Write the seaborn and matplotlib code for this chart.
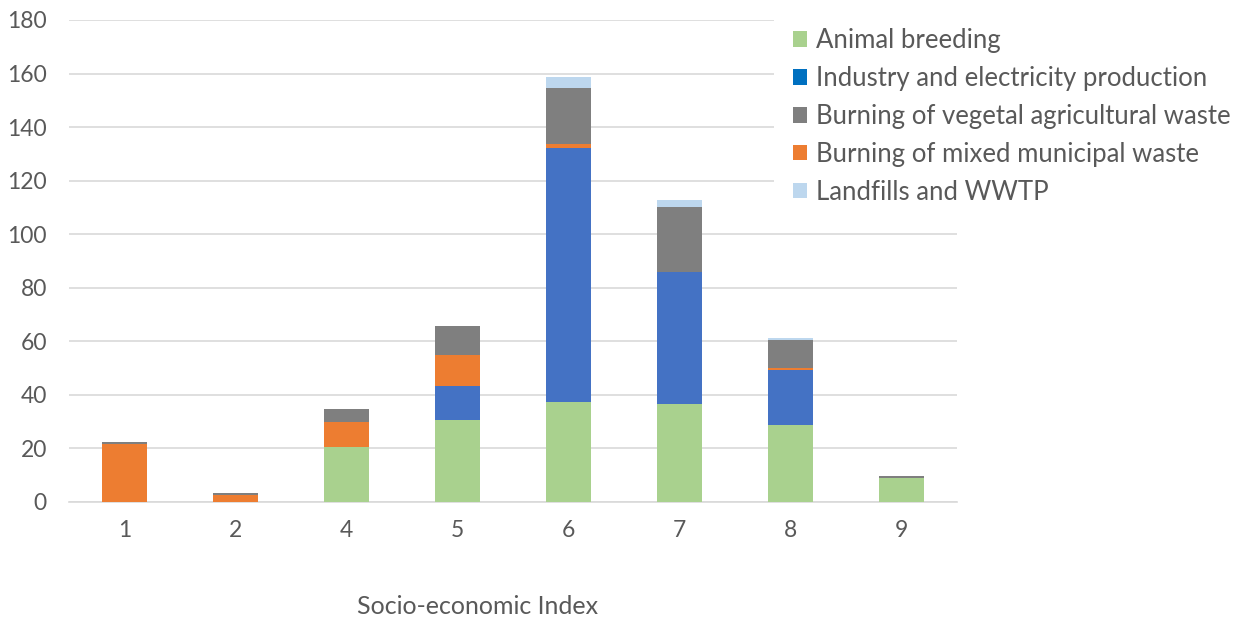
import numpy as np
import pandas as pd
import matplotlib
matplotlib.use("Agg")
import matplotlib.pyplot as plt
from matplotlib.patches import Patch
import seaborn as sns

# Socio-economic index classes shown on the x axis
categories = ["1", "2", "4", "5", "6", "7", "8", "9"]

# Emission contributions per source (stacked bottom -> top)
animal_breeding = [0.0, 0.0, 20.6, 30.7, 37.2, 36.6, 28.8, 8.8]
industry_electricity = [0.0, 0.0, 0.0, 12.8, 94.9, 49.2, 20.6, 0.0]
mixed_municipal_waste = [21.8, 2.6, 9.3, 11.4, 1.6, 0.0, 0.8, 0.0]
vegetal_agri_waste = [0.5, 0.9, 4.8, 10.7, 20.8, 24.3, 10.3, 1.0]
landfills_wwtp = [0.0, 0.0, 0.2, 0.3, 4.2, 2.5, 0.9, 0.0]

series_names = [
    "Animal breeding",
    "Industry and electricity production",
    "Burning of mixed municipal waste",
    "Burning of vegetal agricultural waste",
    "Landfills and WWTP",
]
series_values = [
    animal_breeding,
    industry_electricity,
    mixed_municipal_waste,
    vegetal_agri_waste,
    landfills_wwtp,
]
bar_colors = ["#A9D18E", "#4472C4", "#ED7D31", "#7F7F7F", "#BDD7EE"]

# Legend order and swatch colours
legend_names = [
    "Animal breeding",
    "Industry and electricity production",
    "Burning of vegetal agricultural waste",
    "Burning of mixed municipal waste",
    "Landfills and WWTP",
]
legend_colors = ["#A9D18E", "#0070C0", "#7F7F7F", "#ED7D31", "#BDD7EE"]

sns.set_theme(style="white")
plt.rcParams["font.family"] = ["Lato", "DejaVu Sans"]

text_color = "#595959"
grid_color = "#D9D9D9"

fig = plt.figure(figsize=(12.46, 6.2), dpi=100)
ax = fig.add_axes([69 / 1246, 118 / 620, 888 / 1246, 482 / 620])

# Stack by drawing cumulative totals from the top layer down
df = pd.DataFrame({name: vals for name, vals in zip(series_names, series_values)},
                  index=categories)
cum = df.cumsum(axis=1)
for name, color in reversed(list(zip(series_names, bar_colors))):
    sns.barplot(x=categories, y=cum[name].values, color=color, width=0.4,
                order=categories, ax=ax, saturation=1, linewidth=0,
                zorder=3)

ax.set_ylim(0, 180)
ax.set_xlim(-0.5, len(categories) - 0.5)
ax.set_yticks(np.arange(0, 181, 20))
ax.yaxis.grid(True, color=grid_color, linewidth=1.2, zorder=0)
ax.set_axisbelow(True)
for side in ["top", "right", "left"]:
    ax.spines[side].set_visible(False)
ax.spines["bottom"].set_color(grid_color)
ax.spines["bottom"].set_linewidth(1.2)
ax.tick_params(axis="y", length=0, pad=16, labelsize=16.5, labelcolor=text_color)
ax.tick_params(axis="x", length=0, pad=13, labelsize=16.5, labelcolor=text_color)
ax.set_ylabel("")
ax.set_xlabel("Socio-economic Index", fontsize=18, color=text_color)
ax.xaxis.set_label_coords(0.46, -0.193)

handles = [Patch(facecolor=c, edgecolor="none") for c in legend_colors]
leg = fig.legend(handles, legend_names, loc="upper left",
                 bbox_to_anchor=(774 / 1246, 1.0 - 9 / 620), frameon=True,
                 fontsize=18.5, labelcolor=text_color, handlelength=0.55,
                 handleheight=0.55, handletextpad=0.35, labelspacing=0.5,
                 borderpad=0.75, borderaxespad=0.0)
leg.get_frame().set_facecolor("white")
leg.get_frame().set_edgecolor("none")
leg.get_frame().set_alpha(1.0)

fig.savefig("out.png", dpi=100, facecolor="white")
